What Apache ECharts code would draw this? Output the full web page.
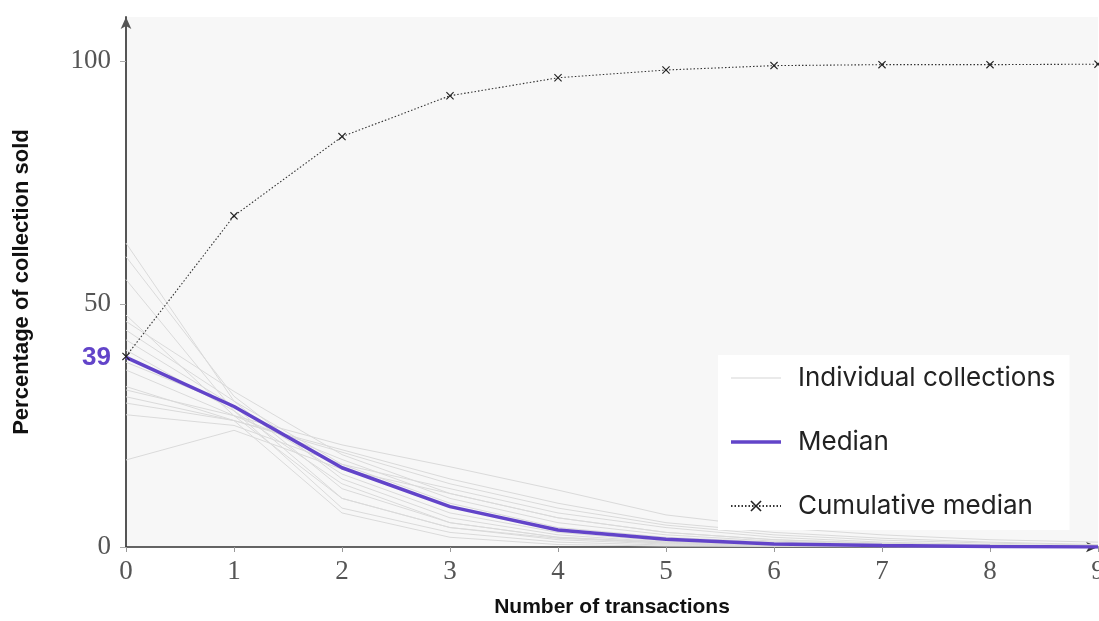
<!DOCTYPE html>
<html lang="en">

<head>
    <meta charset="UTF-8">
    <title>Percentage of collection sold</title>
    <script src="https://cdn.jsdelivr.net/npm/echarts@6/dist/echarts.min.js"></script>
    <style>
        body {
            margin: 0;
            background: #fff;
        }

        #root {
            width: 1099px;
            height: 621px;
        }
    </style>
</head>

<body>

    <div id="root"></div>
    <script>

        // number of transactions
        var transactions = [0, 1, 2, 3, 4, 5, 6, 7, 8, 9];

        // percentage sold at each transaction count, one row per collection
        var individual = [
            [62.5, 30, 12, 5, 2, 1, 0.5, 0.2, 0.1, 0],
            [59.7, 31, 14, 6, 2.5, 1, 0.4, 0.2, 0.1, 0],
            [55, 28, 8, 3, 1, 0.4, 0.2, 0.1, 0, 0],
            [47.7, 27, 10, 4, 1.5, 0.6, 0.3, 0.1, 0, 0],
            [46.4, 32, 19, 11, 6, 3, 1.5, 0.7, 0.3, 0.1],
            [44.6, 30, 17, 9, 4, 2, 1, 0.5, 0.2, 0.1],
            [42.6, 29, 15, 7, 3, 1.2, 0.5, 0.2, 0.1, 0],
            [40.5, 28, 13, 5, 2, 0.8, 0.3, 0.1, 0, 0],
            [36.4, 27, 18, 10, 5, 2.5, 1.2, 0.6, 0.3, 0.1],
            [32.3, 27, 21, 16.5, 11.7, 6.6, 4, 2.5, 1.5, 1],
            [30.9, 26, 20, 14, 9, 5, 3, 1.8, 1, 0.5],
            [29.6, 26, 19.5, 13, 8, 4.5, 2.5, 1.4, 0.8, 0.4],
            [27.2, 25, 17, 12, 7, 4, 2, 1, 0.5, 0.2],
            [17.9, 24, 16, 11, 6, 3, 1.5, 0.8, 0.4, 0.2],
            [33, 26, 7, 2, 0.5, 0.2, 0.1, 0, 0, 0],
            [38, 29, 10, 4, 1.8, 0.8, 0.4, 0.2, 0.1, 0]
        ];

        var median = [39, 28.9, 16.3, 8.3, 3.5, 1.6, 0.6, 0.3, 0.1, 0];
        var cumulativeMedian = [39.2, 68.1, 84.4, 92.8, 96.5, 98.1, 99.0, 99.2, 99.2, 99.3];

        var yTicks = [0, 50, 100];
        var yLabels = [0, 39, 50, 100];

        var purple = '#6244c9';
        var crossPath = 'path://M0,1L1,0L5,4L9,0L10,1L6,5L10,9L9,10L5,6L1,10L0,9L4,5Z';

        function pairs(arr) {
            return arr.map(function (v, i) { return [transactions[i], v]; });
        }

        var series = individual.map(function (row) {
            return {
                name: 'Individual collections',
                type: 'line',
                data: pairs(row),
                symbol: 'none',
                silent: true,
                lineStyle: { color: '#dadada', width: 1 },
                itemStyle: { color: '#d6d6d6' },
                z: 1
            };
        });

        series.push({
            name: 'Median',
            type: 'line',
            data: pairs(median),
            symbol: 'none',
            lineStyle: { color: purple, width: 3.5 },
            itemStyle: { color: purple },
            z: 3
        });

        series.push({
            name: 'Cumulative median',
            type: 'line',
            data: pairs(cumulativeMedian),
            symbol: crossPath,
            symbolSize: 8,
            showSymbol: true,
            lineStyle: { color: '#333', width: 1.1, type: [1.5, 2] },
            itemStyle: { color: '#222' },
            z: 4
        });

        var mychart = echarts.init(document.getElementById('root'));

        mychart.setOption({
            animation: false,
            grid: {
                left: 126,
                right: 1,
                top: 17,
                bottom: 74,
                outerBoundsMode: 'none',
                containLabel: false,
                show: true,
                backgroundColor: '#f7f7f7',
                borderWidth: 0
            },
            legend: {
                orient: 'vertical',
                left: 718,
                top: 355,
                backgroundColor: '#fff',
                padding: [10, 14, 11, 12],
                itemWidth: 50,
                itemHeight: 14,
                itemGap: 38,
                data: [
                    { name: 'Individual collections', icon: 'path://M0,0H50V1H0Z' },
                    { name: 'Median', icon: 'path://M0,0H50V3.5H0Z' },
                    { name: 'Cumulative median' }
                ],
                textStyle: {
                    fontFamily: 'Inter, Roboto, sans-serif',
                    fontSize: 26,
                    color: '#222',
                    padding: [0, 0, 0, 12]
                }
            },
            xAxis: {
                type: 'value',
                min: 0,
                max: 9,
                interval: 1,
                name: 'Number of transactions',
                nameLocation: 'middle',
                nameGap: 50,
                nameTextStyle: {
                    fontFamily: '"Liberation Sans", Arial, sans-serif',
                    fontWeight: 'bold',
                    fontSize: 21,
                    color: '#111'
                },
                splitLine: { show: false },
                axisLine: {
                    lineStyle: { color: '#333', width: 1.5 },
                    symbol: ['none', 'arrow'],
                    symbolSize: [8, 12]
                },
                axisTick: { length: 5, lineStyle: { color: '#999' } },
                axisLabel: {
                    margin: 11,
                    fontFamily: '"Liberation Serif", serif',
                    fontSize: 27,
                    color: '#555',
                    showMaxLabel: true
                }
            },
            yAxis: {
                type: 'value',
                min: 0,
                max: 109,
                interval: 50,
                name: 'Percentage of collection sold',
                nameLocation: 'middle',
                nameGap: 93,
                nameTextStyle: {
                    fontFamily: '"Liberation Sans", Arial, sans-serif',
                    fontWeight: 'bold',
                    fontSize: 22,
                    color: '#111'
                },
                splitLine: { show: false },
                axisLine: {
                    lineStyle: { color: '#555', width: 2 },
                    symbol: ['none', 'arrow'],
                    symbolSize: [8, 12]
                },
                axisTick: {
                    customValues: yTicks,
                    length: 6,
                    lineStyle: { color: '#aaa' }
                },
                axisLabel: {
                    customValues: yLabels,
                    margin: 15,
                    fontFamily: '"Liberation Serif", serif',
                    fontSize: 27,
                    color: '#555',
                    formatter: function (v) {
                        return v === 39 ? '{p|39}' : String(v);
                    },
                    rich: {
                        p: {
                            color: purple,
                            fontFamily: '"Liberation Sans", Arial, sans-serif',
                            fontWeight: 'bold',
                            fontSize: 26
                        }
                    }
                }
            },
            series: series
        });

    </script>

</body>

</html>
